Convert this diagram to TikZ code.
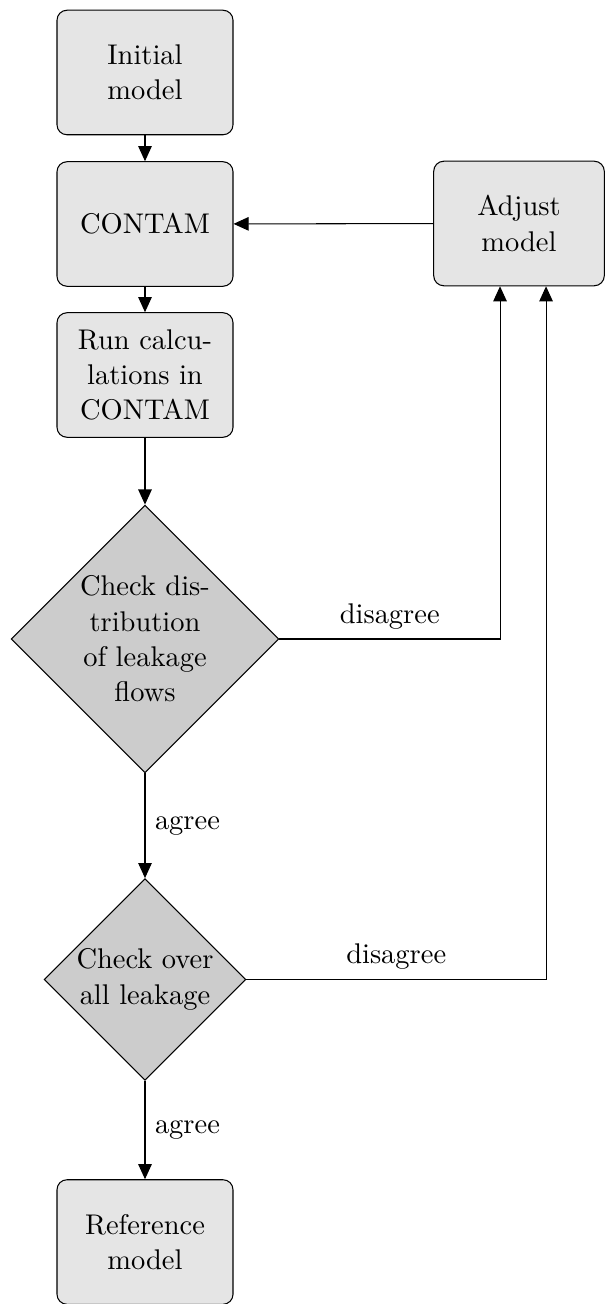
\documentclass[11pt,tikz,border=0pt]{standalone}
\usetikzlibrary{shapes.geometric,arrows.meta}
\begin{document}
\begin{tikzpicture}[x=0.3846pt,y=-0.3846pt,
  box/.style={draw, fill=gray!20, rounded corners=3.85pt, minimum width=67.7pt, minimum height=47.9pt, text width=54pt, align=center, inner sep=0pt},
  dec/.style={draw, fill=gray!40, diamond, aspect=1, text width=54pt, align=center, inner sep=0pt},
  arr/.style={-{Triangle[length=5.8pt,width=5.2pt]}},
  lbl/.style={}]
\useasboundingbox (0,0) rectangle (605,1304);
\node[box] (init) at (145,72.5) {Initial model};
\node[box] (contam) at (145,224) {CONTAM};
\node[box] (run) at (145,375) {Run calculations in CONTAM};
\node[box, minimum width=65.6pt] (adj) at (519,223.5) {Adjust model};
\node[dec, minimum width=103pt, minimum height=103pt] (d1) at (145,639) {Check distribution of leakage flows};
\node[dec, minimum width=77.5pt, minimum height=77.5pt] (d2) at (145,979.5) {Check over all leakage};
\node[box] (ref) at (145,1242) {Reference model};
\draw[arr] (init) -- (contam);
\draw[arr] (contam) -- (run);
\draw[arr] (run) -- (d1);
\draw[arr] (d1) -- node[lbl, right] {agree} (d2);
\draw[arr] (d2) -- node[lbl, right] {agree} (ref);
\draw[arr] (adj) -- (contam);
\draw[arr] (d1.east) -| node[lbl, above, pos=0.25] {disagree} ([xshift=-7.3pt]adj.south);
\draw[arr] (d2.east) -| node[lbl, above, pos=0.25] {disagree} ([xshift=10.4pt]adj.south);
\end{tikzpicture}
\end{document}
